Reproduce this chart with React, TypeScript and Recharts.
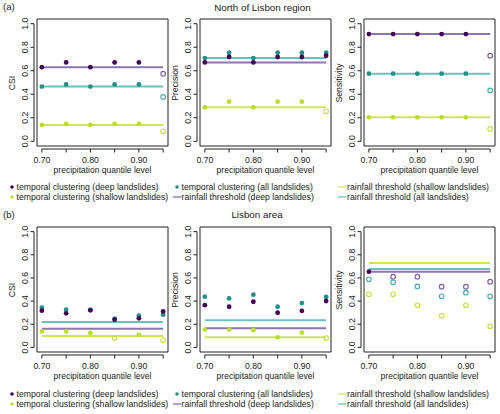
import React from 'react'
import { ComposedChart, XAxis, YAxis, Line, Scatter, ReferenceArea, ReferenceLine } from 'recharts'

const FONT = '"Liberation Sans", Arial, sans-serif'
const AXIS = '#222'
const TEXT = '#222'

const QUANTILES = [0.7, 0.75, 0.8, 0.85, 0.9, 0.95]
const X_TICK_LABELS = ['0.70', '', '0.80', '', '0.90', '']
const Y_TICKS = [0, 0.2, 0.4, 0.6, 0.8, 1]
const Y_TICK_LABELS = ['0.0', '0.2', '0.4', '0.6', '0.8', '1.0']

// (a) North of Lisbon region - temporal clustering, one value per quantile level
const northCsiDeep = [0.63, 0.671, 0.63, 0.671, 0.671, 0.575]
const northCsiAll = [0.465, 0.484, 0.465, 0.484, 0.484, 0.377]
const northCsiShallow = [0.139, 0.148, 0.139, 0.148, 0.148, 0.085]
const northPrecDeep = [0.671, 0.717, 0.671, 0.717, 0.717, 0.728]
const northPrecAll = [0.708, 0.754, 0.708, 0.754, 0.754, 0.754]
const northPrecShallow = [0.289, 0.337, 0.289, 0.337, 0.337, 0.255]
const northSensDeep = [0.912, 0.912, 0.912, 0.912, 0.912, 0.728]
const northSensAll = [0.575, 0.575, 0.575, 0.575, 0.575, 0.433]
const northSensShallow = [0.204, 0.204, 0.204, 0.204, 0.204, 0.105]

// (b) Lisbon area - temporal clustering
const lisbonCsiDeep = [0.317, 0.294, 0.32, 0.239, 0.251, 0.311]
const lisbonCsiAll = [0.343, 0.326, 0.326, 0.248, 0.274, 0.282]
const lisbonCsiShallow = [0.138, 0.138, 0.124, 0.081, 0.11, 0.063]
const lisbonPrecDeep = [0.365, 0.351, 0.394, 0.299, 0.316, 0.4]
const lisbonPrecAll = [0.438, 0.423, 0.455, 0.351, 0.383, 0.435]
const lisbonPrecShallow = [0.154, 0.154, 0.148, 0.087, 0.128, 0.081]
const lisbonSensDeep = [0.654, 0.611, 0.611, 0.524, 0.524, 0.568]
const lisbonSensAll = [0.588, 0.562, 0.527, 0.441, 0.473, 0.441]
const lisbonSensShallow = [0.458, 0.458, 0.363, 0.274, 0.363, 0.182]

// rainfall threshold scores: [deep, all, shallow]
const northCsiRain = [0.63, 0.465, 0.139]
const northPrecRain = [0.671, 0.708, 0.289]
const northSensRain = [0.912, 0.575, 0.204]
const lisbonCsiRain = [0.161, 0.219, 0.098]
const lisbonPrecRain = [0.165, 0.235, 0.087]
const lisbonSensRain = [0.654, 0.677, 0.729]

const COLORS = {
  deep: { point: '#440154', open: '#7b5aa6', line: '#8b76b5', legend: '#7d62ab' },
  all: { point: '#21908c', open: '#4aa8a4', line: '#6cc0ba', legend: '#5fb8b3' },
  shallow: { point: '#bbdf27', open: '#c4e03c', line: '#cfe45c', legend: '#c9e25a' },
}

const PLOT_W = 131
const MARGIN_TOP = 6
const X_AXIS_H = 22
const Y_AXIS_W = 36

const XTick = (props: any) => {
  const { x, y, payload } = props
  const i = QUANTILES.findIndex((q) => Math.abs(q - payload.value) < 1e-6)
  return (
    <g>
      <line x1={x} x2={x} y1={y + 3} y2={y + 6.5} stroke={AXIS} />
      <text x={x} y={y + 14.3} textAnchor="middle" dominantBaseline="central" fontSize={8.7} fontFamily={FONT} fill={TEXT}>
        {X_TICK_LABELS[i]}
      </text>
    </g>
  )
}

const YTick = (props: any) => {
  const { x, y, payload } = props
  const i = Y_TICKS.findIndex((t) => Math.abs(t - payload.value) < 1e-6)
  const tx = x - 12
  return (
    <g>
      <line x1={x - 3} x2={x - 6.5} y1={y} y2={y} stroke={AXIS} />
      <text x={tx} y={y} transform={`rotate(-90, ${tx}, ${y})`} textAnchor="middle" dominantBaseline="central" fontSize={8.7} fontFamily={FONT} fill={TEXT}>
        {Y_TICK_LABELS[i]}
      </text>
    </g>
  )
}

const filledDot = (color: string) => (p: any) => <circle cx={p.cx} cy={p.cy} r={2.4} fill={color} />
const openDot = (color: string) => (p: any) => <circle cx={p.cx} cy={p.cy} r={2.3} fill="none" stroke={color} strokeWidth={1.1} />

type Group = 'deep' | 'all' | 'shallow'

function Panel({ left, top, plotH, yLabel, values, rain }: {
  left: number; top: number; plotH: number; yLabel: string
  values: Record<Group, number[]>; rain: number[]
}) {
  const height = MARGIN_TOP + plotH + X_AXIS_H
  const width = Y_AXIS_W + PLOT_W + 4
  const xPerPx = 0.27 / PLOT_W
  const yPerPx = 1.08 / plotH
  const thresholds: Record<Group, number> = { deep: rain[0], all: rain[1], shallow: rain[2] }
  const order: Group[] = ['all', 'shallow', 'deep']

  const pts = (g: Group, open: boolean) =>
    QUANTILES.map((x, i) => ({ x, y: values[g][i] })).filter((d) =>
      open ? d.y < thresholds[g] - 1e-9 : d.y >= thresholds[g] - 1e-9)

  return (
    <div style={{ position: 'absolute', left, top, width, height }}>
      <ComposedChart width={width} height={height} margin={{ top: MARGIN_TOP, right: 4, bottom: 0, left: 0 }}>
        <XAxis type="number" dataKey="x" domain={[0.69, 0.96]} ticks={QUANTILES} allowDataOverflow interval={0}
          axisLine={false} tickLine={false} tickSize={0} tickMargin={0} tick={<XTick />} height={X_AXIS_H} />
        <YAxis type="number" dataKey="y" domain={[-0.04, 1.04]} ticks={Y_TICKS} allowDataOverflow interval={0}
          axisLine={false} tickLine={false} tickSize={0} tickMargin={0} tick={<YTick />} width={Y_AXIS_W} />
        <ReferenceArea x1={0.69} x2={0.96} y1={-0.04} y2={1.04} fill="none" stroke={AXIS} strokeWidth={1} />
        <ReferenceLine segment={[{ x: 0.7, y: -0.04 - 3 * yPerPx }, { x: 0.95, y: -0.04 - 3 * yPerPx }]} ifOverflow="visible" stroke={AXIS} />
        <ReferenceLine segment={[{ x: 0.69 - 3 * xPerPx, y: 0 }, { x: 0.69 - 3 * xPerPx, y: 1 }]} ifOverflow="visible" stroke={AXIS} />
        {order.map((g) => (
          <Line key={`line-${g}`} data={[{ x: 0.7, y: thresholds[g] }, { x: 0.95, y: thresholds[g] }]} dataKey="y"
            stroke={COLORS[g].line} strokeWidth={2} dot={false} activeDot={false} isAnimationActive={false} />
        ))}
        {order.map((g) => (
          <Scatter key={`open-${g}`} data={pts(g, true)} dataKey="y" shape={openDot(COLORS[g].open)} isAnimationActive={false} />
        ))}
        {order.map((g) => (
          <Scatter key={`fill-${g}`} data={pts(g, false)} dataKey="y" shape={filledDot(COLORS[g].point)} isAnimationActive={false} />
        ))}
      </ComposedChart>
      <span style={{ position: 'absolute', left: Y_AXIS_W - 25, top: MARGIN_TOP + plotH / 2, transform: 'translate(-50%, -50%) rotate(-90deg)',
        fontSize: 8.7, fontFamily: FONT, color: TEXT, whiteSpace: 'nowrap', lineHeight: 1 }}>{yLabel}</span>
      <span style={{ position: 'absolute', left: Y_AXIS_W + PLOT_W / 2, top: MARGIN_TOP + plotH + 24, transform: 'translate(-50%, -50%)',
        fontSize: 8.5, fontFamily: FONT, color: TEXT, whiteSpace: 'nowrap', lineHeight: 1 }}>precipitation quantile level</span>
    </div>
  )
}

const LEGEND = [
  { label: 'temporal clustering (deep landslides)', group: 'deep' as Group, kind: 'dot', col: 0, row: 0 },
  { label: 'temporal clustering (shallow landslides)', group: 'shallow' as Group, kind: 'dot', col: 0, row: 1 },
  { label: 'temporal clustering (all landslides)', group: 'all' as Group, kind: 'dot', col: 1, row: 0 },
  { label: 'rainfall threshold (deep landslides)', group: 'deep' as Group, kind: 'line', col: 1, row: 1 },
  { label: 'rainfall threshold (shallow landslides)', group: 'shallow' as Group, kind: 'line', col: 2, row: 0 },
  { label: 'rainfall threshold (all landslides)', group: 'all' as Group, kind: 'line', col: 2, row: 1 },
]
const LEGEND_COLS = [7.5, 172.5, 338]

function Legend({ top, rowGap }: { top: number; rowGap: number }) {
  return (
    <>
      {LEGEND.map((e) => (
        <div key={e.label} style={{ position: 'absolute', left: LEGEND_COLS[e.col], top: top + e.row * rowGap - 6, height: 12,
          display: 'flex', alignItems: 'center', fontSize: 8.7, fontFamily: FONT, color: TEXT, whiteSpace: 'nowrap' }}>
          <svg width={9} height={12} style={{ display: 'block' }}>
            {e.kind === 'dot'
              ? <circle cx={4} cy={6} r={1.8} fill={COLORS[e.group].point} />
              : <line x1={0} x2={8.5} y1={6} y2={6} stroke={COLORS[e.group].legend} strokeWidth={1.2} />}
          </svg>
          <span>{e.label}</span>
        </div>
      ))}
    </>
  )
}

const COL_LEFT = [1, 164, 328]

export default function App() {
  const rowA = { top: 19 - MARGIN_TOP, plotH: 127 }
  const rowB = { top: 227 - MARGIN_TOP, plotH: 125 }
  const heading = { position: 'absolute' as const, fontFamily: FONT, color: TEXT, whiteSpace: 'nowrap' as const, lineHeight: 1, transform: 'translateY(-50%)' }
  return (
    <div style={{ position: 'absolute', left: 0, top: 0, width: 500, height: 414, background: '#fff', overflow: 'hidden' }}>
      <span style={{ ...heading, left: 3, top: 7, fontSize: 9.6 }}>(a)</span>
      <span style={{ ...heading, left: 262.5, top: 7.5, fontSize: 9.8, transform: 'translate(-50%, -50%)' }}>North of Lisbon region</span>
      <Panel left={COL_LEFT[0]} top={rowA.top} plotH={rowA.plotH} yLabel="CSI"
        values={{ deep: northCsiDeep, all: northCsiAll, shallow: northCsiShallow }} rain={northCsiRain} />
      <Panel left={COL_LEFT[1]} top={rowA.top} plotH={rowA.plotH} yLabel="Precision"
        values={{ deep: northPrecDeep, all: northPrecAll, shallow: northPrecShallow }} rain={northPrecRain} />
      <Panel left={COL_LEFT[2]} top={rowA.top} plotH={rowA.plotH} yLabel="Sensitivity"
        values={{ deep: northSensDeep, all: northSensAll, shallow: northSensShallow }} rain={northSensRain} />
      <Legend top={186.7} rowGap={10.6} />

      <span style={{ ...heading, left: 3, top: 215, fontSize: 9.6 }}>(b)</span>
      <span style={{ ...heading, left: 257, top: 215, fontSize: 9.8, transform: 'translate(-50%, -50%)' }}>Lisbon area</span>
      <Panel left={COL_LEFT[0]} top={rowB.top} plotH={rowB.plotH} yLabel="CSI"
        values={{ deep: lisbonCsiDeep, all: lisbonCsiAll, shallow: lisbonCsiShallow }} rain={lisbonCsiRain} />
      <Panel left={COL_LEFT[1]} top={rowB.top} plotH={rowB.plotH} yLabel="Precision"
        values={{ deep: lisbonPrecDeep, all: lisbonPrecAll, shallow: lisbonPrecShallow }} rain={lisbonPrecRain} />
      <Panel left={COL_LEFT[2]} top={rowB.top} plotH={rowB.plotH} yLabel="Sensitivity"
        values={{ deep: lisbonSensDeep, all: lisbonSensAll, shallow: lisbonSensShallow }} rain={lisbonSensRain} />
      <Legend top={394} rowGap={10} />
    </div>
  )
}
